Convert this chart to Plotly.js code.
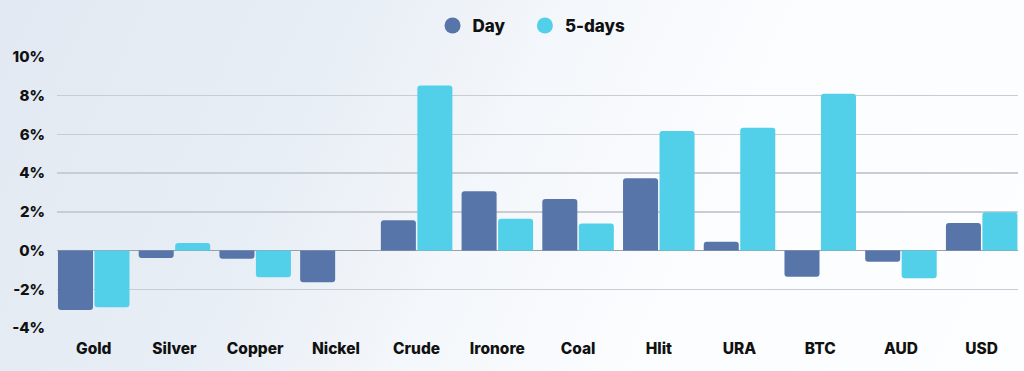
<!DOCTYPE html>
<html>
<head>
<meta charset="utf-8">
<script src="https://cdn.plot.ly/plotly-3.0.1.min.js"></script>
<style>
html,body{margin:0;padding:0;}
#chart{width:1024px;height:371px;background:linear-gradient(115deg,#e2e9f2 0%,#e8eef5 30%,#f4f7fb 48%,#fafcfe 65%,#fdfeff 100%);}
</style>
</head>
<body>
<div id="chart"></div>
<script>
const categories = ["Gold","Silver","Copper","Nickel","Crude","Ironore","Coal","Hlit","URA","BTC","AUD","USD"];
const dayValues = [-3.07,-0.39,-0.42,-1.64,1.57,3.07,2.67,3.74,0.45,-1.35,-0.58,1.42];
const fiveDayValues = [-2.93,0.39,-1.38,0,8.53,1.64,1.40,6.18,6.35,8.10,-1.43,1.98];
const yTickVals = [-4,-2,0,2,4,6,8,10];
const yTickText = ["-4%","-2%","0%","2%","4%","6%","8%","10%"];
const seriesNames = ["Day","5-days"];

const dayColor = "#5875aa";
const fiveColor = "#52d0ea";
const fam = "Inter, 'Open Sans', sans-serif";
const xFont = {family:fam, size:15.5, color:"#111", weight:800};
const yFont = {family:fam, size:15, color:"#111", weight:800};
const pad = "\u00a0\u00a0\u00a0\u00a0";

const traces = [
  {type:"bar", name:seriesNames[0], x:categories, y:dayValues, marker:{color:dayColor, cornerradius:3}, showlegend:false, hoverinfo:"y"},
  {type:"bar", name:seriesNames[1], x:categories, y:fiveDayValues, marker:{color:fiveColor, cornerradius:3}, showlegend:false, hoverinfo:"y"},
  {type:"scatter", mode:"markers", name:seriesNames[0] + pad, x:[null], y:[null], marker:{color:dayColor, size:17, symbol:"circle"}},
  {type:"scatter", mode:"markers", name:seriesNames[1], x:[null], y:[null], marker:{color:fiveColor, size:17, symbol:"circle"}}
];

const layout = {
  width:1024, height:371,
  margin:{l:57, r:6, t:57, b:43},
  paper_bgcolor:"rgba(0,0,0,0)",
  plot_bgcolor:"rgba(0,0,0,0)",
  font:xFont,
  barmode:"group",
  bargap:0.096,
  bargroupgap:0.04,
  showlegend:true,
  legend:{orientation:"h", x:0.4938, xanchor:"center", y:0.93, yanchor:"middle", yref:"container", font:{family:fam,size:17,color:"#111",weight:800}, itemwidth:30, bgcolor:"rgba(0,0,0,0)"},
  xaxis:{type:"category", range:[-0.455,11.45], showgrid:false, zeroline:false, showline:false, ticks:"", tickfont:xFont, automargin:false, ticklabelstandoff:9},
  yaxis:{range:[-4,10], tickvals:yTickVals, ticktext:yTickText, showgrid:true, gridcolor:"#c9cdd2", gridwidth:1.5, zeroline:true, zerolinecolor:"#9aa0a6", zerolinewidth:1.5, ticks:"", tickfont:yFont, ticklabelstandoff:11, automargin:false, fixedrange:true}
};
Plotly.newPlot("chart", traces, layout, {displayModeBar:false, staticPlot:true});
</script>
</body>
</html>
